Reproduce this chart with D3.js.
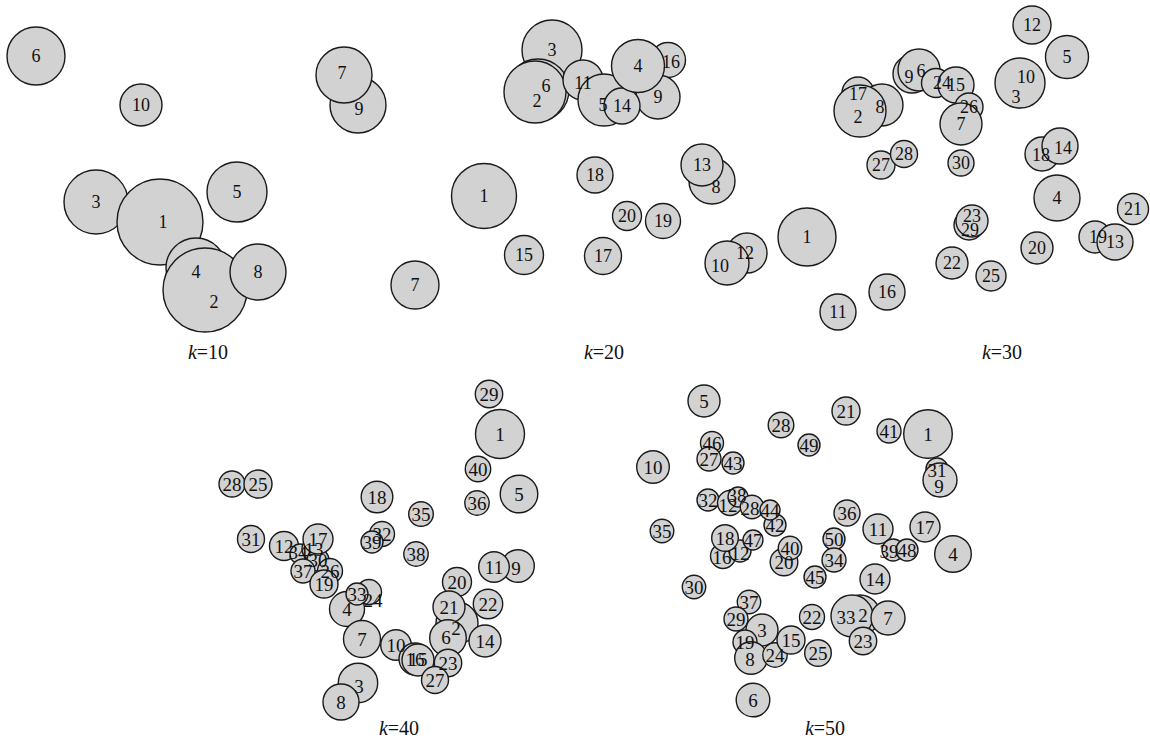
<!DOCTYPE html>
<html>
<head>
<meta charset="utf-8">
<script src="https://cdnjs.cloudflare.com/ajax/libs/d3/7.8.5/d3.min.js"></script>
<style>
  html, body { margin: 0; padding: 0; background: #fff; }
  #chart { width: 1150px; height: 748px; }
</style>
</head>
<body>
<div id="chart"></div>
<script>
// each row: [label, x, y, size, labelX, labelY] (label position only where it differs from the centre)
// rows are listed in drawing order, later rows sit on top
var k10Bubbles = [
  ["6", 36, 56, 29],
  ["10", 141, 105, 21],
  ["9", 358, 105, 28, 359, 109],
  ["7", 344, 75, 28, 342, 73],
  ["3", 96, 202, 32],
  ["5", 237, 192, 30],
  ["1", 160, 222, 43, 163, 222],
  ["4", 196, 268, 30, 196, 272],
  ["2", 205, 290, 42, 214, 302],
  ["8", 258, 272, 28]
];

var k20Bubbles = [
  ["1", 484, 196, 32.5],
  ["7", 415, 285, 24],
  ["3", 552, 50, 30],
  ["6", 538, 90, 31, 546, 86],
  ["2", 535, 92, 31, 537, 101],
  ["11", 583, 80, 20, 583, 83],
  ["16", 668, 60, 17.5, 671, 62],
  ["9", 658, 97, 22],
  ["5", 604, 100, 26, 603, 105],
  ["14", 622, 106, 18],
  ["4", 638, 66, 26.5],
  ["18", 595, 175, 18],
  ["8", 712, 181, 23, 716, 187],
  ["13", 702, 165, 21],
  ["20", 627, 216, 14.5],
  ["19", 663, 221, 17.5],
  ["15", 524, 255, 19.5],
  ["17", 603, 256, 18.5],
  ["12", 747, 253, 20, 745, 253],
  ["10", 727, 263, 22, 720, 266]
];

var k30Bubbles = [
  ["12", 1032, 25, 19],
  ["5", 1067, 57, 21.5],
  ["3", 1020, 84, 23.5, 1016, 97],
  ["10", 1020, 83, 25, 1026, 77],
  ["17", 858, 93, 16, 858, 94],
  ["8", 882, 105, 21, 880, 107],
  ["2", 860, 111, 26, 858, 117],
  ["9", 912, 74, 19, 909, 77],
  ["6", 919, 70, 21, 921, 71],
  ["24", 936, 83, 14.5, 942, 83],
  ["15", 956, 85, 18],
  ["26", 969, 107, 14],
  ["7", 961, 124, 21],
  ["27", 881, 165, 14],
  ["28", 904, 154, 13.5],
  ["30", 961, 163, 13],
  ["18", 1042, 154, 17, 1041, 155],
  ["14", 1060, 146, 18, 1063, 148],
  ["4", 1057, 198, 23],
  ["21", 1133, 209, 15.5],
  ["1", 807, 237, 29],
  ["29", 969, 225, 15, 970, 230],
  ["23", 972, 221, 16, 972, 216],
  ["19", 1095, 237, 16, 1098, 237],
  ["13", 1115, 242, 18],
  ["20", 1037, 248, 16],
  ["22", 952, 263, 16],
  ["25", 991, 276, 15],
  ["16", 887, 292, 18],
  ["11", 838, 312, 18]
];

var k40Bubbles = [
  ["29", 489, 394, 13.7],
  ["1", 500, 434, 24.5],
  ["40", 478, 469, 12.7],
  ["5", 519, 494, 18.8],
  ["36", 477, 503, 12.2],
  ["28", 232, 484, 13],
  ["25", 258, 484, 14],
  ["18", 377, 497, 15.8],
  ["35", 421, 514, 12.3],
  ["31", 251, 539, 13.5],
  ["32", 382, 534, 12.5],
  ["39", 372, 542, 11],
  ["38", 416, 554, 12.2],
  ["12", 284, 546, 14.5],
  ["34", 300, 554, 10, 298, 552],
  ["13", 314, 549, 12],
  ["30", 318, 560, 11],
  ["17", 318, 539, 15],
  ["37", 303, 571, 12],
  ["26", 330, 571, 12.5],
  ["19", 324, 584, 14],
  ["4", 347, 609, 17.5],
  ["24", 369, 592, 12.5, 373, 600],
  ["33", 357, 594, 11],
  ["7", 362, 639, 18.5],
  ["10", 396, 645, 15.3],
  ["16", 415, 659, 16, 415, 659],
  ["15", 418, 660, 16, 418, 659],
  ["20", 457, 582, 14.5],
  ["2", 457, 623, 21, 456, 628],
  ["21", 449, 607, 16],
  ["6", 448, 638, 18.3, 446, 637],
  ["14", 485, 641, 16],
  ["22", 488, 604, 14.7],
  ["9", 518, 566, 16.3, 516, 568],
  ["11", 494, 567, 15.3],
  ["23", 448, 663, 13.7],
  ["27", 435, 680, 13.5],
  ["3", 358, 683, 19.7, 359, 686],
  ["8", 341, 702, 18]
];

var k50Bubbles = [
  ["5", 704, 401, 16],
  ["21", 846, 411, 14],
  ["28", 781, 425, 12.8],
  ["41", 889, 431, 12],
  ["1", 928, 434, 24.3],
  ["49", 809, 445, 11],
  ["46", 712, 443, 11.5],
  ["27", 709, 459, 12],
  ["43", 733, 463, 11],
  ["10", 653, 467, 16.3],
  ["31", 937, 469, 11, 937, 470],
  ["9", 940, 480, 17, 939, 486],
  ["32", 708, 500, 11],
  ["12", 730, 503, 12.5, 728, 505],
  ["38", 738, 497, 10, 737, 495],
  ["28", 752, 507, 11.7, 750, 508],
  ["42", 775, 525, 11],
  ["44", 770, 510, 10],
  ["16", 723, 556, 12.5, 722, 557],
  ["12", 740, 551, 11, 740, 553],
  ["18", 725, 538, 13.3],
  ["47", 753, 540, 10],
  ["36", 847, 513, 13],
  ["11", 878, 529, 15],
  ["17", 925, 527, 15],
  ["35", 662, 531, 11.8],
  ["50", 834, 539, 11],
  ["20", 784, 562, 13.8],
  ["40", 790, 548, 11.7],
  ["39", 893, 550, 11, 889, 551],
  ["48", 907, 550, 11],
  ["4", 953, 554, 18.3],
  ["34", 834, 560, 12],
  ["45", 815, 577, 11],
  ["14", 875, 579, 15],
  ["30", 694, 587, 11.7],
  ["37", 749, 602, 11.7],
  ["29", 736, 619, 12],
  ["3", 762, 630, 16],
  ["19", 745, 642, 12],
  ["8", 751, 658, 16.3, 750, 659],
  ["24", 775, 655, 12.2],
  ["15", 791, 640, 14],
  ["22", 812, 617, 12.5],
  ["25", 818, 653, 13.3],
  ["2", 860, 615, 20, 863, 615],
  ["33", 852, 616, 21, 846, 617],
  ["7", 888, 618, 17],
  ["23", 863, 641, 13.7],
  ["6", 753, 700, 16.8]
];

var panelK = ["10", "20", "30", "40", "50"];
var captionX = [208, 604, 1002, 399, 825];
var captionY = [352, 352, 352, 728, 728];

(function () {

  var options = {
    width: 1150,
    height: 748,
    fill: "#d2d2d2",
    stroke: "#1a1a1a",
    font: "'Liberation Serif', 'Times New Roman', serif"
  };

  var panels = [k10Bubbles, k20Bubbles, k30Bubbles, k40Bubbles, k50Bubbles].map(function (rows, i) {
    return {
      k: panelK[i],
      top: i < 3,
      cx: captionX[i],
      cy: captionY[i],
      bubbles: rows.map(function (d) {
        return {
          label: d[0], x: d[1], y: d[2], size: d[3],
          lx: d.length > 4 ? d[4] : d[1],
          ly: d.length > 4 ? d[5] : d[2]
        };
      })
    };
  });

  var x = d3.scaleLinear().domain([0, options.width]).range([0, options.width]);
  var y = d3.scaleLinear().domain([0, options.height]).range([0, options.height]);
  var r = d3.scaleLinear().domain([0, 50]).range([0, 50]);

  var svg = d3.select("#chart").append("svg")
      .attr("width", options.width)
      .attr("height", options.height)
      .style("font-family", options.font);

  svg.append("rect")
    .attr("width", options.width)
    .attr("height", options.height)
    .attr("fill", "#fff");

  panels.forEach(function (p) {
    var g = svg.append("g").attr("class", "panel k" + p.k);

    g.append("g").attr("class", "circles")
      .selectAll("circle")
      .data(p.bubbles)
      .enter().append("circle")
        .attr("cx", d => x(d.x))
        .attr("cy", d => y(d.y))
        .attr("r", d => r(d.size))
        .style("fill", options.fill)
        .style("stroke", options.stroke)
        .style("stroke-width", 1.4);

    g.append("g").attr("class", "labels")
      .selectAll("text")
      .data(p.bubbles)
      .enter().append("text")
        .attr("x", d => x(d.lx))
        .attr("y", d => y(d.ly))
        .attr("dy", "0.35em")
        .style("text-anchor", "middle")
        .style("font-size", p.top ? "18px" : "19px")
        .style("fill", "#111")
        .text(d => d.label);

    var cap = g.append("text")
      .attr("x", p.cx)
      .attr("y", p.cy)
      .attr("dy", "0.35em")
      .style("text-anchor", "middle")
      .style("font-size", "20px")
      .style("fill", "#111");
    cap.append("tspan").style("font-style", "italic").text("k");
    cap.append("tspan").text("=" + p.k);
  });

})();
</script>
</body>
</html>
